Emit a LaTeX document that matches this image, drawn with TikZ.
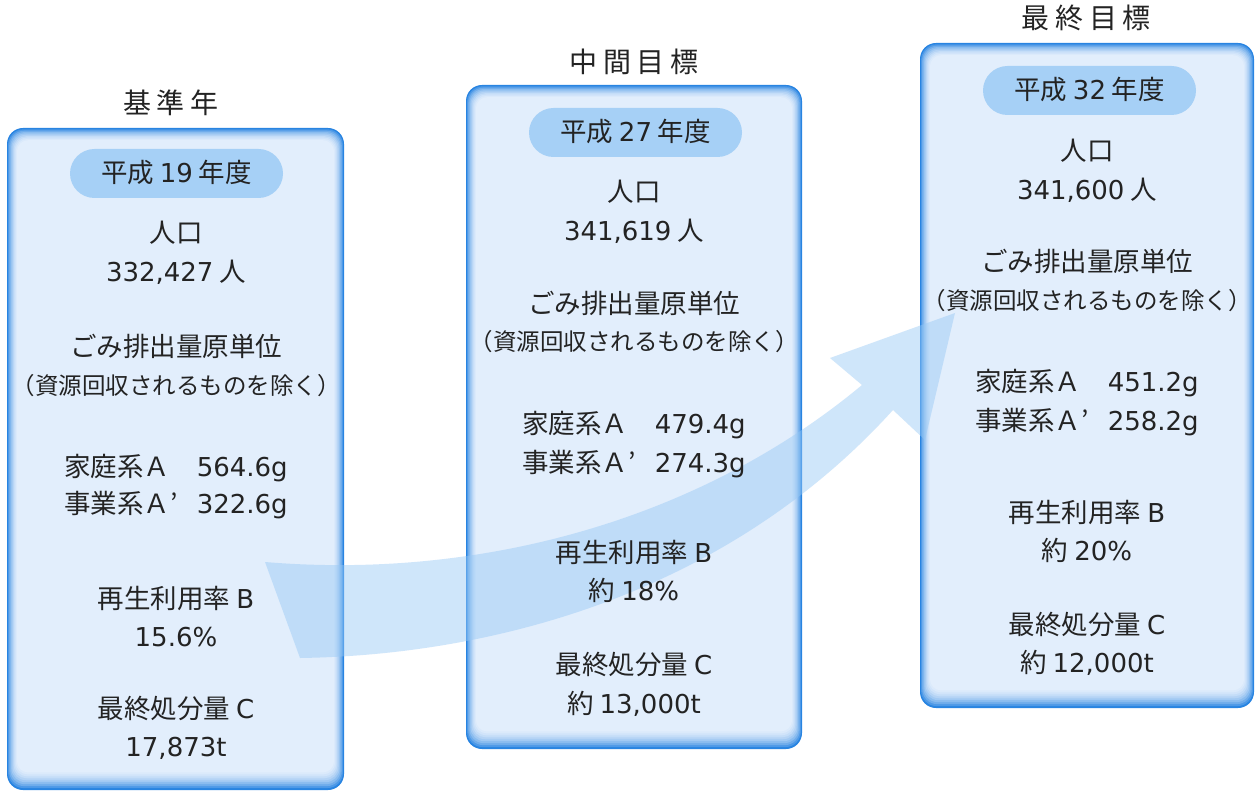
\documentclass[tikz,border=0pt]{standalone}
\usepackage{fontspec}
\setmainfont{Noto Sans CJK JP}
\newfontfamily\lat{DejaVu Sans}
\definecolor{bordc}{RGB}{40,132,225}
\definecolor{innerc}{RGB}{226,238,252}
\definecolor{pillc}{RGB}{166,208,246}
\definecolor{arrowc}{RGB}{150,200,245}
\definecolor{txtc}{RGB}{35,35,35}
\newcommand\glowbox[4]{%
  \foreach \i/\p in {0/100,1/80,2/62,3/47,4/35,5/25,6/16,7/9,8/4,9/0}{%
    \pgfmathsetmacro\sx{\i*1.1}%
    \pgfmathsetmacro\st{\i*1.35}%
    \pgfmathsetmacro\sb{\i*1.95}%
    \pgfmathsetmacro\rc{16-\i*0.5}%
    \fill[bordc!\p!innerc, rounded corners=\rc pt] ({#1+\sx},{#2+\st}) rectangle ({#3-\sx},{#4-\sb});
  }%
}
\tikzset{
  txt/.style={anchor=base, text=txtc, font=\fontsize{26.5}{30}\selectfont, inner sep=0pt},
  small/.style={anchor=base, text=txtc, font=\fontsize{23.5}{27}\selectfont, inner sep=0pt},
  ttl/.style={anchor=base, text=txtc, font=\fontsize{28}{32}\selectfont, inner sep=0pt},
  pill/.style={fill=pillc, rounded corners=24.5pt, inner sep=0pt},
}
\newcommand\LT[1]{{\lat\fontsize{26}{30}\selectfont #1}}
\newcommand\apos{\makebox[1em][l]{’}}
\begin{document}
\begin{tikzpicture}[x=1pt,y=-1pt]
\useasboundingbox (0,0) rectangle (1257,791);
\fill[white] (0,0) rectangle (1257,791);
% boxes
\glowbox{7}{128}{344}{790}
\glowbox{466}{85}{802}{749}
\glowbox{920}{43}{1254}{708}
% pills
\node[pill, minimum width=213pt, minimum height=49pt] (p1) at (176.5,173.5) {};
\node[pill, minimum width=213pt, minimum height=49pt] (p2) at (635.5,132.5) {};
\node[pill, minimum width=213pt, minimum height=49pt] (p3) at (1089.5,90.5) {};
% arrow band
\fill[arrowc, opacity=0.45]
  (265,562) .. controls (480,580) and (700,520) .. (862,385)
  -- (830,358) -- (955,313) -- (925,440) -- (893,410)
  .. controls (730,590) and (500,655) .. (300,658) -- cycle;
% titles
\node[ttl] (t1) at (171,114) {基\hspace{6pt}準\hspace{6pt}年};
\node[ttl] (t2) at (634,73) {中\hspace{6pt}間\hspace{6pt}目\hspace{6pt}標};
\node[ttl] (t3) at (1086,29) {最\hspace{6pt}終\hspace{6pt}目\hspace{6pt}標};
% pill texts
\node[txt] (y1) at (176.5,183) {平成 \LT{19} 年度};
\node[txt] (y2) at (635.5,142) {平成 \LT{27} 年度};
\node[txt] (y3) at (1089.5,100) {平成 \LT{32} 年度};
% box 1
\node[txt] (a1) at (176,243) {人口};
\node[txt] (a2) at (176,282) {\LT{332,427} 人};
\node[txt] (a3) at (176,356) {ごみ排出量原単位};
\node[small] (a4) at (176,394) {（資源回収されるものを除く）};
\node[txt] (a5) at (176,476) {家庭系Ａ　\LT{564.6g}};
\node[txt] (a6) at (176,513) {事業系Ａ\apos\LT{322.6g}};
\node[txt] (a7) at (176,608) {再生利用率 \LT{B}};
\node[txt] (a8) at (176,646) {\LT{15.6\%}};
\node[txt] (a9) at (176,718) {最終処分量 \LT{C}};
\node[txt] (a10) at (176,756) {\LT{17,873t}};
% box 2
\node[txt] (b1) at (634,202) {人口};
\node[txt] (b2) at (634,241) {\LT{341,619} 人};
\node[txt] (b3) at (634,313) {ごみ排出量原単位};
\node[small] (b4) at (634,350) {（資源回収されるものを除く）};
\node[txt] (b5) at (634,433) {家庭系Ａ　\LT{479.4g}};
\node[txt] (b6) at (634,472) {事業系Ａ\apos\LT{274.3g}};
\node[txt] (b7) at (634,562) {再生利用率 \LT{B}};
\node[txt] (b8) at (634,600) {約 \LT{18\%}};
\node[txt] (b9) at (634,674) {最終処分量 \LT{C}};
\node[txt] (b10) at (634,713) {約 \LT{13,000t}};
% box 3
\node[txt] (c1) at (1087,161) {人口};
\node[txt] (c2) at (1087,200) {\LT{341,600} 人};
\node[txt] (c3) at (1087,272) {ごみ排出量原単位};
\node[small] (c4) at (1087,309) {（資源回収されるものを除く）};
\node[txt] (c5) at (1087,391) {家庭系Ａ　\LT{451.2g}};
\node[txt] (c6) at (1087,430) {事業系Ａ\apos\LT{258.2g}};
\node[txt] (c7) at (1087,522) {再生利用率 \LT{B}};
\node[txt] (c8) at (1087,560) {約 \LT{20\%}};
\node[txt] (c9) at (1087,634) {最終処分量 \LT{C}};
\node[txt] (c10) at (1087,672) {約 \LT{12,000t}};
\end{tikzpicture}
\end{document}
